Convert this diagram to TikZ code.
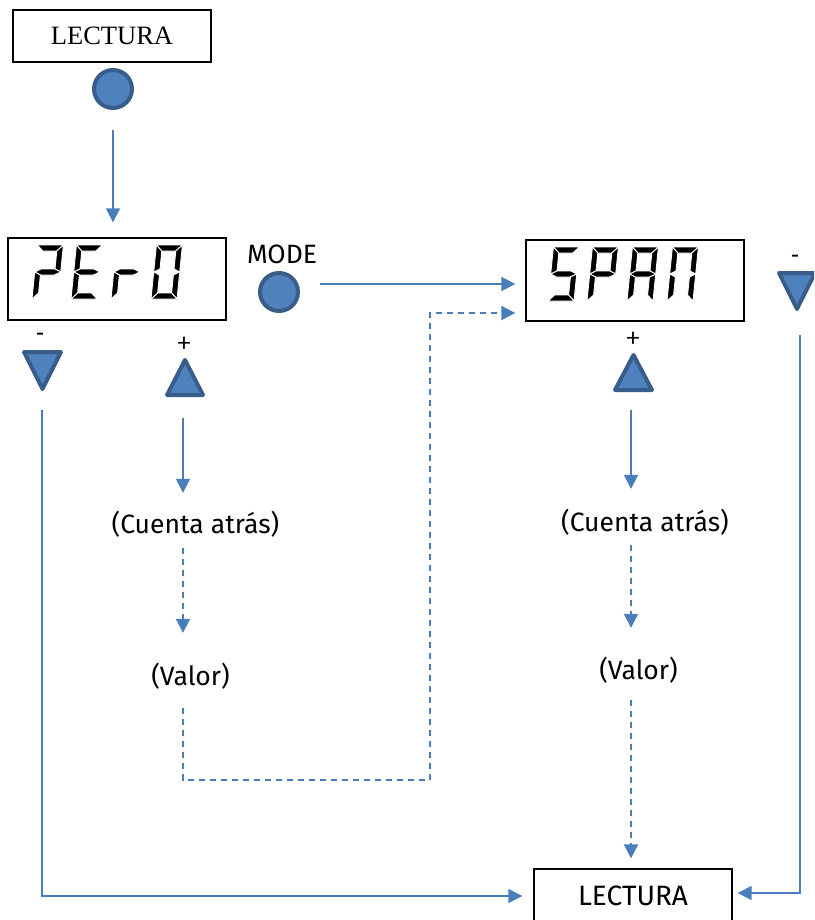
\documentclass[tikz,border=0pt]{standalone}
\usepackage{fontspec}
\setmainfont{Fira Sans}
\newfontfamily\serifface{Liberation Serif}
\newfontfamily\signface{Carlito}
\usetikzlibrary{arrows.meta}

\definecolor{linkblue}{RGB}{74,126,187}
\definecolor{keyfill}{RGB}{79,129,189}
\definecolor{keyedge}{RGB}{56,93,138}

% seven-segment geometry (local units, v pointing up)
\def\sW{26}
\def\sH{54}
\def\sT{6}
\def\sM{27}
\newcommand\sega{\path[seg] (0,\sH) -- (\sW,\sH) -- (\sW-\sT,\sH-\sT) -- (\sT,\sH-\sT) -- cycle;}
\newcommand\segd{\path[seg] (0,0) -- (\sW,0) -- (\sW-\sT,\sT) -- (\sT,\sT) -- cycle;}
\newcommand\segf{\path[seg] (0,\sH) -- (\sT,\sH-\sT) -- (\sT,\sM+\sT/2) -- (0,\sM) -- cycle;}
\newcommand\segb{\path[seg] (\sW,\sH) -- (\sW,\sM) -- (\sW-\sT,\sM+\sT/2) -- (\sW-\sT,\sH-\sT) -- cycle;}
\newcommand\sege{\path[seg] (0,0) -- (0,\sM) -- (\sT,\sM-\sT/2) -- (\sT,\sT) -- cycle;}
\newcommand\segc{\path[seg] (\sW,0) -- (\sW-\sT,\sT) -- (\sW-\sT,\sM-\sT/2) -- (\sW,\sM) -- cycle;}
\newcommand\segg{\path[seg] (0,\sM) -- (\sT,\sM+\sT/2) -- (\sW-\sT,\sM+\sT/2) -- (\sW,\sM) -- (\sW-\sT,\sM-\sT/2) -- (\sT,\sM-\sT/2) -- cycle;}
% #1,#2: lower left corner, #3: lit segments
\newcommand\lcdchar[3]{%
  \begin{scope}[shift={(#1,#2)}, yscale=-1, xslant=-0.1]
    \foreach \s in {#3} {\csname seg\s\endcsname}
  \end{scope}}

\tikzset{
  box/.style={draw=black, line width=1.3pt, rectangle, inner sep=0pt},
  key/.style={circle, draw=keyedge, fill=keyfill, line width=4pt, minimum size=38pt, inner sep=0pt},
  keytri/.style={draw=keyedge, fill=keyfill, line width=4pt, line join=round},
  link/.style={draw=linkblue, line width=1.6pt, -{Triangle[width=14pt,length=14pt]}},
  dlink/.style={link, line width=2pt, dash pattern=on 6pt off 5pt},
  txt/.style={font=\fontsize{26.5}{30}\selectfont, inner sep=0pt, minimum height=30pt},
  sign/.style={font=\signface\fontsize{26}{30}\selectfont, inner sep=0pt},
  seg/.style={fill=black, draw=white, line width=0.9pt}
}

\begin{document}
\begin{tikzpicture}[x=1pt,y=-1pt]
\useasboundingbox (0,0) rectangle (814,920);
\clip (0,0) rectangle (814,920);

% boxes
\node[box, minimum width=198pt, minimum height=52pt, font=\serifface\fontsize{26.5}{30}\selectfont] (top) at (112,36) {LECTURA};
\node[box, minimum width=218pt, minimum height=82pt] (zero) at (117,279) {};
\node[box, minimum width=218pt, minimum height=81pt] (span) at (635,280.5) {};
\node[box, minimum width=198pt, minimum height=54pt, font=\fontsize{28}{32}\selectfont] (read) at (633,896) {LECTURA};

% display digits
\lcdchar{32}{299}{a,b,g,e}
\lcdchar{71}{299}{a,f,g,e,d}
\lcdchar{111}{299}{g,e}
\lcdchar{151}{299}{a,b,c,d,e,f}
\lcdchar{548}{301}{a,f,g,c,d}
\lcdchar{587}{301}{a,b,f,g,e}
\lcdchar{627}{301}{a,b,c,e,f,g}
\lcdchar{667}{301}{a,b,c,e,f}

% keys
\node[key] (k1) at (113,89) {};
\node[key] (mode) at (279,292) {};
\node[txt] (modet) at (282,254) {MODE};

\draw[keytri] (24,352) -- (61,352) -- (42.5,389) -- cycle;
\coordinate (zdn) at (42,389);
\node[sign] (zminus) at (40,337) {-};
\draw[keytri] (167,395) -- (203,395) -- (185,360) -- cycle;
\coordinate (zup) at (183,395);
\node[sign] (zplus) at (184,344) {+};

\draw[keytri] (615,390) -- (652,390) -- (633.5,355) -- cycle;
\coordinate (sup) at (631,390);
\node[sign] (splus) at (633,339) {+};
\draw[keytri] (779,273) -- (815,273) -- (797,309) -- cycle;
\coordinate (sdn) at (800,309);
\node[sign] (sminus) at (795,259) {-};

% texts
\node[txt] (c1) at (195.5,524) {(Cuenta atrás)};
\node[txt] (v1) at (190.5,676) {(Valor)};
\node[txt] (c2) at (645,522) {(Cuenta atrás)};
\node[txt] (v2) at (638.5,670) {(Valor)};
\coordinate (bendR) at (430,780);

% connectors
\draw[link, shorten <=20pt, shorten >=15pt] (k1.south) -- (k1.south |- zero.north);
\draw[link, shorten <=20pt, shorten >=10pt] ([yshift=8pt]mode.east) -- ([yshift=8pt]mode.east -| span.west);

\draw[link, shorten <=23pt, shorten >=16pt] (zup) -- (zup |- c1.north);
\draw[dlink, shorten <=9pt, shorten >=28pt] (zup |- c1.south) -- (zup |- v1.north);
\draw[dlink, shorten <=17pt, shorten >=10pt] (zup |- v1.south) |- (bendR) |- ([yshift=-32.5pt]span.west);

\draw[link, shorten <=20pt, shorten >=18pt] (sup) -- (sup |- c2.north);
\draw[dlink, shorten <=8pt, shorten >=27pt] (sup |- c2.south) -- (sup |- v2.north);
\draw[dlink, shorten <=15pt, shorten >=10pt] (sup |- v2.south) -- (sup |- read.north);

\draw[link, shorten <=21pt, shorten >=11pt] (zdn) |- (read.west);
\draw[link, shorten <=26pt, shorten >=5pt] (sdn) |- ([yshift=3pt]read.east);
\end{tikzpicture}
\end{document}
